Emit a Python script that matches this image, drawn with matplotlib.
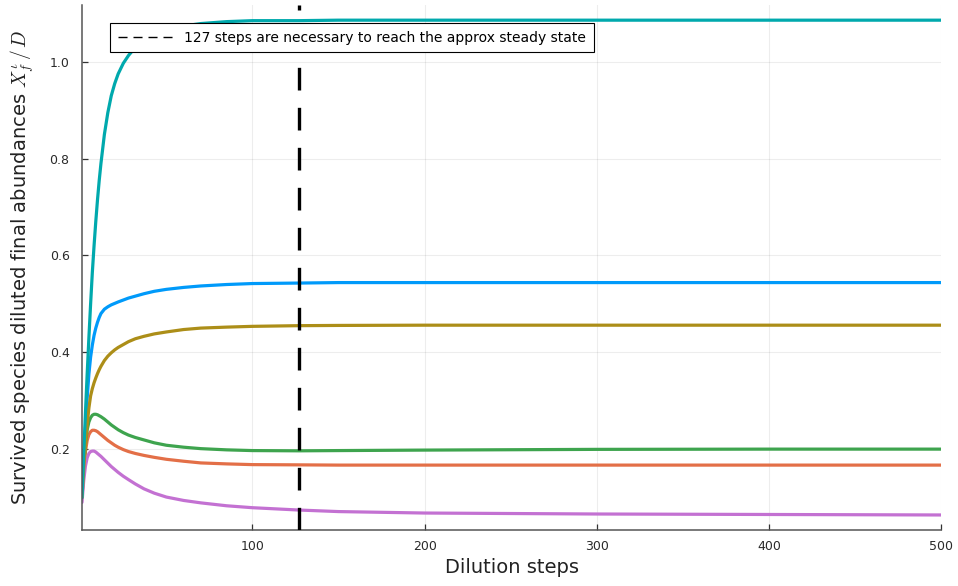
import matplotlib
matplotlib.use("Agg")
import matplotlib.pyplot as plt
from matplotlib.lines import Line2D

# ---- data ----
steps = [1, 2, 3, 4, 5, 6, 7, 8, 9, 10, 11, 12, 14, 16, 18, 20, 22, 25, 28, 32,
         37, 43, 50, 60, 70, 85, 100, 127, 150, 200, 300, 400, 500]

teal = [0.10, 0.19, 0.275, 0.355, 0.43, 0.50, 0.565, 0.62, 0.67, 0.715, 0.755, 0.79,
        0.85, 0.895, 0.93, 0.955, 0.975, 0.997, 1.013, 1.03,
        1.045, 1.057, 1.066, 1.074, 1.079, 1.083, 1.085, 1.085, 1.086, 1.086, 1.086,
        1.086, 1.086]
blue = [0.10, 0.175, 0.245, 0.305, 0.355, 0.39, 0.415, 0.435, 0.45, 0.462, 0.472, 0.48,
        0.489, 0.494, 0.498, 0.501, 0.504, 0.508, 0.512, 0.516,
        0.521, 0.526, 0.530, 0.534, 0.537, 0.540, 0.542, 0.543, 0.544, 0.544, 0.544,
        0.544, 0.544]
olive = [0.10, 0.16, 0.21, 0.25, 0.285, 0.31, 0.325, 0.337, 0.347, 0.356, 0.364, 0.371,
         0.383, 0.392, 0.399, 0.405, 0.41, 0.416, 0.422, 0.428,
         0.433, 0.438, 0.442, 0.447, 0.45, 0.452, 0.4536, 0.455, 0.4555, 0.456, 0.456,
         0.456, 0.456]
green = [0.10, 0.165, 0.21, 0.24, 0.256, 0.265, 0.27, 0.272, 0.272, 0.271, 0.269, 0.267,
         0.262, 0.256, 0.25, 0.245, 0.24, 0.234, 0.229, 0.224,
         0.219, 0.213, 0.208, 0.204, 0.201, 0.1985, 0.197, 0.1965, 0.197, 0.198, 0.1995,
         0.2, 0.2]
orange = [0.10, 0.155, 0.195, 0.218, 0.23, 0.236, 0.239, 0.239, 0.238, 0.236, 0.233, 0.23,
          0.224, 0.218, 0.213, 0.208, 0.204, 0.199, 0.195, 0.191,
          0.187, 0.183, 0.179, 0.175, 0.1715, 0.1695, 0.168, 0.1675, 0.167, 0.167, 0.167,
          0.167, 0.167]
purple = [0.09, 0.135, 0.165, 0.182, 0.191, 0.195, 0.196, 0.196, 0.194, 0.191, 0.188, 0.185,
          0.178, 0.171, 0.164, 0.158, 0.152, 0.144, 0.137, 0.128,
          0.118, 0.109, 0.101, 0.094, 0.089, 0.083, 0.079, 0.0742, 0.071, 0.068, 0.066,
          0.065, 0.064]

series = [blue, orange, green, purple, olive, teal]
colors = ["#009AFA", "#E36F47", "#3EA44E", "#C371D2", "#AC8E18", "#00A9AD"]

steady_step = 127
legend_label = "127 steps are necessary to reach the approx steady state"
xticks = [100, 200, 300, 400, 500]
yticks = [0.2, 0.4, 0.6, 0.8, 1.0]
ytick_labels = ["0.2", "0.4", "0.6", "0.8", "1.0"]

# ---- figure ----
plt.rcParams["mathtext.fontset"] = "cm"
fig = plt.figure(figsize=(9.58, 5.86), dpi=100)
ax = fig.add_axes([0.0856, 0.0956, 0.8967, 0.896])

for ys, c in zip(series, colors):
    ax.plot(steps, ys, color=c, lw=2.3, solid_capstyle="round",
            solid_joinstyle="round", zorder=2)

ax.axvline(steady_step, color="black", lw=2.4, dashes=(6.8, 5.2), zorder=3)

ax.set_xlim(1, 500)
ax.set_ylim(0.033, 1.1175)
ax.set_xticks(xticks)
ax.set_yticks(yticks)
ax.set_yticklabels(ytick_labels)

ax.grid(True, color="#000000", alpha=0.07, lw=0.8)
ax.set_axisbelow(True)
for s in ["top", "right"]:
    ax.spines[s].set_visible(False)
for s in ["left", "bottom"]:
    ax.spines[s].set_color("#555555")
    ax.spines[s].set_linewidth(1.1)
ax.tick_params(direction="in", length=4, width=0.9, color="#333333",
               labelsize=9, labelcolor="#2a2a2a")
ax.tick_params(axis="y", pad=9)
ax.tick_params(axis="x", pad=7)

ax.set_xlabel("Dilution steps", fontsize=14, labelpad=4, color="#222222")
ax.set_ylabel(r"Survived species diluted final abundances $X^{\iota}_{f}\,/\,D$",
              fontsize=14, labelpad=9, color="#222222")

handle = Line2D([], [], color="black", lw=1.0, dashes=(6.5, 4.3))
leg = ax.legend([handle], [legend_label], loc="upper left",
                bbox_to_anchor=(0.0326, 0.9657), borderaxespad=0.0,
                fontsize=10, frameon=True, fancybox=False, framealpha=1.0,
                edgecolor="black", handlelength=4.0, borderpad=0.55,
                handletextpad=0.8)
leg.get_frame().set_linewidth(0.8)
leg.set_zorder(5)

fig.savefig("out.png", dpi=100)
